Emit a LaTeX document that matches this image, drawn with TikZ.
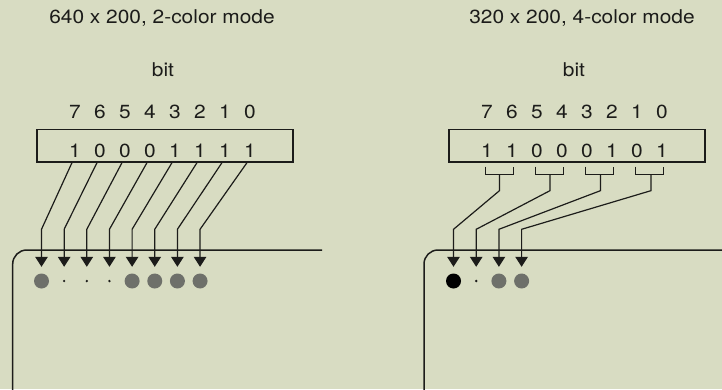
\documentclass[tikz,border=0pt]{standalone}
\usepackage{fontspec}
\setmainfont{TeX Gyre Heros}[FakeStretch=1.1]
\usetikzlibrary{arrows.meta,calc}
\definecolor{bg}{HTML}{D8DCC2}
\definecolor{ink}{HTML}{1C1C1A}
\definecolor{dotgray}{HTML}{6E706A}
\begin{document}
\begin{tikzpicture}[x=1pt,y=-1pt,
  txt/.style={font=\fontsize{19}{22}\selectfont, text=ink, inner sep=0pt, anchor=base},
  regbox/.style={draw=ink, line width=1.3pt, minimum width=256pt, minimum height=32.5pt, inner sep=0pt},
  link/.style={draw=ink, line width=1.2pt, -{Triangle[width=12.5pt,length=10pt]}, shorten >=6.5pt},
  pixbase/.style={circle, minimum size=15pt, inner sep=0pt},
  pix1/.style={pixbase, fill=dotgray},
  pix2/.style={pixbase, fill=black},
  pix0/.style={pixbase, path picture={\fill[ink] (path picture bounding box.center) circle (1.3pt);}},
  frame/.style={draw=ink, line width=1.5pt, rounded corners=14pt},
  brk/.style={draw=ink, line width=1.2pt}]
\fill[bg] (0,0) rectangle (722,389);
\useasboundingbox (0,0) rectangle (722,389);

% ---------------- left panel ----------------
\node[txt] (ltitle) at (162,23) {640 x 200, 2-color mode};
\node[txt] (lbitlbl) at (163,76) {bit};
\foreach \k in {0,...,7} {
  \pgfmathtruncatemacro\n{7-\k}
  \node[txt] (lnum\k) at ({75+25*\k},118) {\n};
}
\node[regbox] (lbox) at (165,145.75) {};
\foreach \d [count=\k from 0] in {1,0,0,0,1,1,1,1} {
  \node[txt] (lbit\k) at ({75+25*\k},157) {\d};
  \node[pix\d] (lpx\k) at ({41.5+22.65*\k},281) {};
  \draw[link] ($(lbit\k.center |- lbox.south)+(-3,0)$) -- ($(lpx\k.north)+(0,-44)$) -- (lpx\k.north);
}
\draw[frame] (12.7,395) -- (12.7,250) -- (322,250);

% ---------------- right panel ----------------
\node[txt] (rtitle) at (582,23) {320 x 200, 4-color mode};
\node[txt] (rbitlbl) at (574,76) {bit};
\foreach \k in {0,...,7} {
  \pgfmathtruncatemacro\n{7-\k}
  \node[txt] (rnum\k) at ({487+25*\k},118) {\n};
}
\node[regbox] (rbox) at (577,145.75) {};
\foreach \d [count=\k from 0] in {1,1,0,0,0,1,0,1} {
  \node[txt] (rbit\k) at ({487+25*\k},157) {\d};
}
\foreach \p [count=\j from 0] in {2,0,1,1} {
  \pgfmathtruncatemacro\a{2*\j}
  \pgfmathtruncatemacro\b{2*\j+1}
  \coordinate (rbl\j) at ($(rbit\a.center |- rbox.south)+(-1.5,4)$);
  \coordinate (rbr\j) at ($(rbit\b.center |- rbox.south)+(1.5,4)$);
  \coordinate (rstem\j) at ($(rbl\j)!0.5!(rbr\j)+(0.5*\j,8)$);
  \draw[brk] (rbl\j) -- ++(0,8) -| (rbr\j);
  \node[pix\p] (rpx\j) at ({453.5+22.7*\j},281) {};
  \draw[link] (rstem\j) -- ++(0,16) -- ($(rpx\j.north)+(0,-44)$) -- (rpx\j.north);
}
\draw[frame] (424,395) -- (424,250) -- (730,250);
\end{tikzpicture}
\end{document}
